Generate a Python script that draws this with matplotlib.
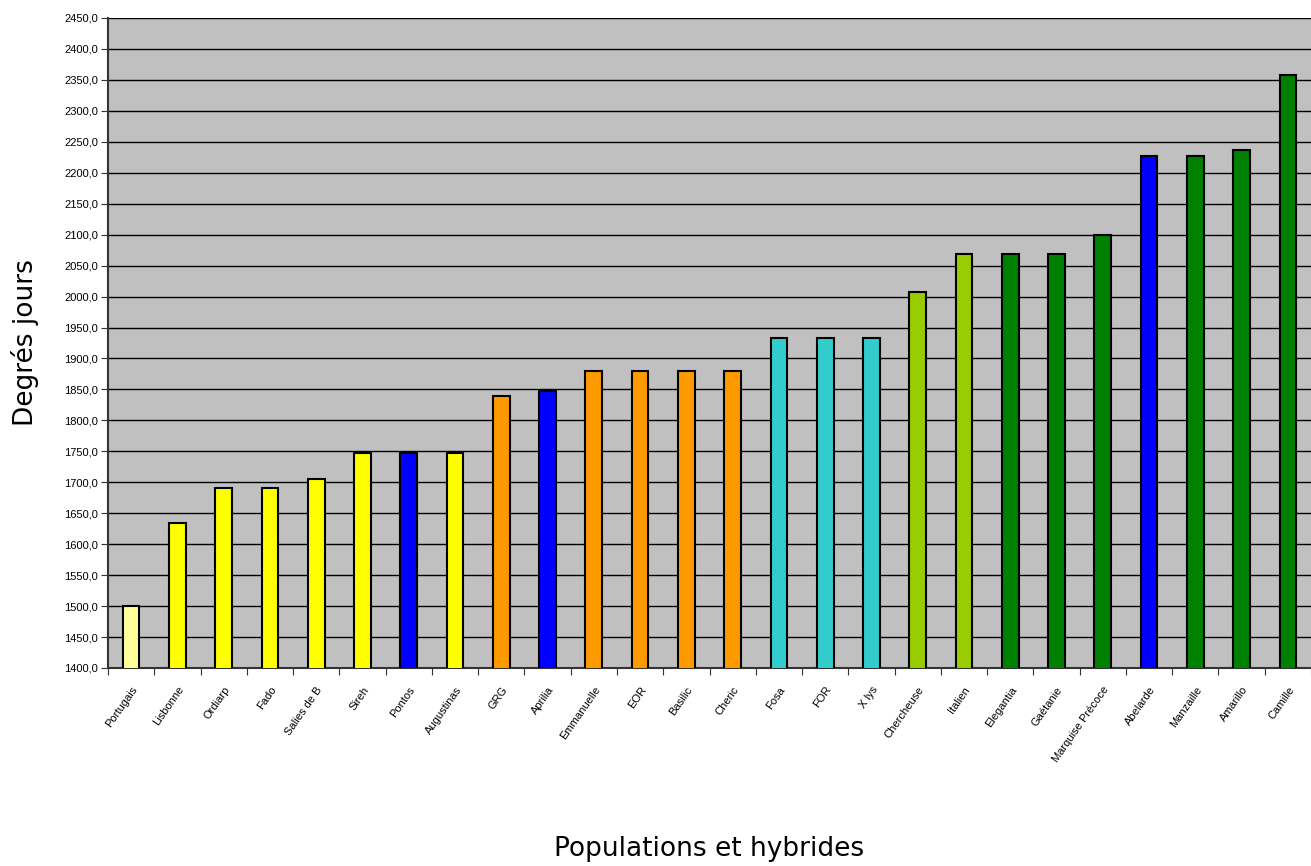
import numpy as np
import matplotlib
matplotlib.use("Agg")
import matplotlib.pyplot as plt

# Données
noms = ["Portugais", "Lisbonne", "Ordiarp", "Fado", "Salies de B", "Sireh",
        "Pontos", "Augustinas", "GRG", "Aprilia", "Emmanuelle", "EOR",
        "Basilic", "Cheric", "Fosa", "FOR", "X lys", "Chercheuse", "Italien",
        "Elegantia", "Gaétanie", "Marquise Précoce", "Abelarde", "Manzaille",
        "Amarillo", "Camille"]
degres = [1500, 1635, 1690, 1690, 1705, 1748, 1748, 1748, 1840, 1847,
          1880, 1880, 1880, 1880, 1933, 1933, 1933, 2007, 2068, 2068,
          2068, 2100, 2227, 2227, 2237, 2358]
groupes = ["clair", "jaune", "jaune", "jaune", "jaune", "jaune", "bleu", "jaune",
           "orange", "bleu", "orange", "orange", "orange", "orange",
           "cyan", "cyan", "cyan", "vert_clair", "vert_clair",
           "vert", "vert", "vert", "bleu", "vert", "vert", "vert"]
couleurs = {"clair": "#FFFF99", "jaune": "#FFFF00", "bleu": "#0000FF",
            "orange": "#FF9900", "cyan": "#33CCCC", "vert_clair": "#99CC00",
            "vert": "#008000"}

fig = plt.figure(figsize=(13.11, 8.66), dpi=100)
ax = fig.add_axes([108 / 1311, 1 - 668 / 866, (1311 - 108) / 1311, 650 / 866])
ax.set_facecolor("#C0C0C0")

x = np.arange(len(noms))
ax.bar(x, degres, width=0.36, bottom=0, color=[couleurs[g] for g in groupes],
       edgecolor="black", linewidth=1.5, zorder=3)

ax.set_xlim(-0.5, len(noms) - 0.5)
ax.set_ylim(1400, 2450)
yt = np.arange(1400, 2451, 50)
ax.set_yticks(yt)
ax.set_yticklabels([f"{v:.1f}".replace(".", ",") for v in yt],
                   fontsize=8, family="Liberation Sans")
ax.yaxis.grid(True, color="black", linewidth=1, zorder=1)
ax.set_axisbelow(True)

ax.set_xticks(np.arange(len(noms) + 1) - 0.5, minor=False)
ax.set_xticklabels([])
ax.set_xticks(x, minor=True)
ax.set_xticklabels(noms, minor=True, rotation=55, ha="right", va="top",
                   fontsize=8, family="Liberation Sans", rotation_mode="anchor")
ax.tick_params(axis="x", which="minor", length=0, pad=12)
ax.tick_params(axis="x", which="major", length=5, color="#333333")
ax.tick_params(axis="y", length=5, color="#333333", pad=2)

for s in ["top", "right"]:
    ax.spines[s].set_visible(False)
ax.spines["left"].set_color("#333333")
ax.spines["left"].set_linewidth(1.5)
ax.spines["bottom"].set_color("#333333")
ax.spines["bottom"].set_linewidth(1.5)

ax.set_ylabel("Degrés jours", fontsize=19, labelpad=18)
ax.set_xlabel("Populations et hybrides", fontsize=19, labelpad=52)

fig.savefig("out.png", dpi=100)
